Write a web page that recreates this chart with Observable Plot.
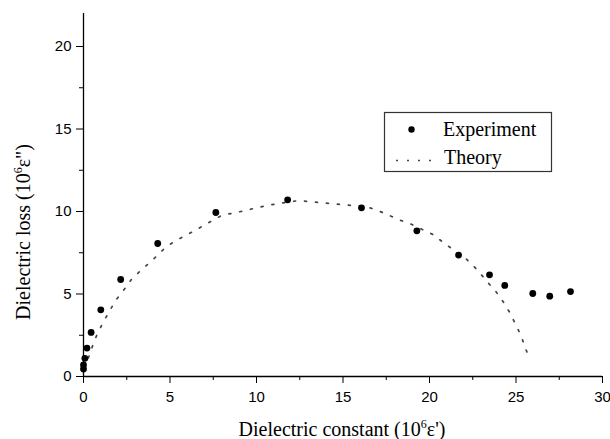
<!DOCTYPE html>
<html>
<head>
<meta charset="utf-8">
<script src="https://cdn.jsdelivr.net/npm/d3@7"></script>
<script src="https://cdn.jsdelivr.net/npm/@observablehq/plot@0.6"></script>
<style>
  html, body { margin: 0; padding: 0; background: white; }
  svg { display: block; }
</style>
</head>
<body>
<div id="chart"></div>
<script>
// Experiment data (dielectric constant vs dielectric loss)
const expX = [0, 0, 0.08, 0.2, 0.44, 1.0, 2.15, 4.29, 7.65, 11.8, 16.07, 19.27, 21.68, 23.47, 24.35, 25.97, 26.95, 28.15];
const expY = [0.45, 0.7, 1.1, 1.72, 2.67, 4.04, 5.88, 8.06, 9.94, 10.71, 10.22, 8.83, 7.36, 6.16, 5.52, 5.03, 4.87, 5.15];

// Theory curve
const theoryX = [0.05, 0.31, 0.54, 0.79, 1.12, 1.48, 1.87, 2.37, 2.81, 3.47, 4.12, 4.76, 5.39, 6.05, 6.68, 7.31, 7.98, 8.63, 9.27, 9.9, 10.56, 11.19, 12.47, 13.12, 13.77, 14.41, 15.05, 15.7, 16.34, 16.97, 17.59, 18.29, 18.92, 20.19, 20.83, 21.45, 22.16, 22.75, 23.27, 23.85, 24.3, 24.68, 25.01, 25.3, 25.53, 25.78];
const theoryY = [0.5, 1.21, 1.9, 2.57, 3.25, 3.92, 4.63, 5.3, 5.94, 6.57, 7.19, 7.84, 8.27, 8.63, 8.99, 9.37, 9.76, 9.9, 10.04, 10.2, 10.35, 10.47, 10.67, 10.59, 10.53, 10.47, 10.41, 10.35, 10.3, 10.08, 9.8, 9.48, 9.24, 8.61, 8.1, 7.62, 7.09, 6.48, 5.82, 5.13, 4.47, 3.8, 3.09, 2.45, 1.76, 1.09];

// Axis ticks
const xTicks = [0, 5, 10, 15, 20, 25, 30];
const xMinor = [2.5, 7.5, 12.5, 17.5, 22.5, 27.5];
const yTicks = [0, 5, 10, 15, 20];
const yMinor = [2.5, 7.5, 12.5, 17.5];

const xTitle = "Dielectric constant";
const yTitle = "Dielectric loss";
const legendLabels = ["Experiment", "Theory"];

const experiment = expX.map((x, i) => ({x, y: expY[i]}));
const theory = theoryX.map((x, i) => ({x, y: theoryY[i]}));

const chart = Plot.plot({
  width: 610,
  height: 439,
  marginLeft: 83,
  marginRight: 8,
  marginTop: 13,
  marginBottom: 63,
  x: {domain: [0, 30]},
  y: {domain: [0, 22]},
  style: {fontFamily: "'Liberation Sans', Arial, sans-serif", fontSize: "15px", color: "black", background: "white"},
  marks: [
    Plot.axisX({ticks: xTicks, tickSize: 7, tickPadding: 8, tickFormat: d => String(d), label: null, fontSize: 15}),
    Plot.axisX({ticks: xMinor, tickSize: 4, text: null, label: null}),
    Plot.axisY({ticks: yTicks, tickSize: 7, tickPadding: 5, tickFormat: d => String(d), label: null, fontSize: 15}),
    Plot.axisY({ticks: yMinor, tickSize: 4, text: null, label: null}),
    Plot.ruleY([0], {stroke: "black", strokeWidth: 1.3}),
    Plot.ruleX([0], {stroke: "black", strokeWidth: 1.3}),
    Plot.line(theory, {x: "x", y: "y", stroke: "#444", strokeWidth: 1.7, strokeDasharray: "2,9"}),
    Plot.dot(experiment, {x: "x", y: "y", r: 3.4, fill: "black", stroke: "none"})
  ]
});
document.getElementById("chart").appendChild(chart);

const svg = d3.select(chart);
const serif = "'Liberation Serif', 'Times New Roman', serif";

// X axis title
const xt = svg.append("text")
  .attr("x", 342).attr("y", 436)
  .attr("text-anchor", "middle")
  .attr("font-family", serif).attr("font-size", 20).attr("fill", "black");
xt.append("tspan").text(xTitle + " (10");
xt.append("tspan").attr("font-size", 12).attr("dy", -8).text("6");
xt.append("tspan").attr("dy", 8).text("\u03B5')");

// Y axis title
const yt = svg.append("text")
  .attr("transform", "translate(30,232) rotate(-90)")
  .attr("text-anchor", "middle")
  .attr("font-family", serif).attr("font-size", 20).attr("fill", "black");
yt.append("tspan").text(yTitle + " (10");
yt.append("tspan").attr("font-size", 12).attr("dy", -8).text("6");
yt.append("tspan").attr("dy", 8).text("\u03B5\")");

// Legend
const lg = svg.append("g").attr("text-anchor", "start");
lg.append("rect").attr("x", 384.5).attr("y", 112.5).attr("width", 167).attr("height", 59)
  .attr("fill", "white").attr("stroke", "#333").attr("stroke-width", 1.2);
lg.append("circle").attr("cx", 411.5).attr("cy", 129.5).attr("r", 3.2).attr("fill", "black");
lg.append("text").attr("x", 443).attr("y", 136).attr("text-anchor", "start")
  .attr("font-family", serif).attr("font-size", 20)
  .attr("fill", "black").text(legendLabels[0]);
lg.append("line").attr("x1", 396).attr("x2", 436).attr("y1", 160.5).attr("y2", 160.5)
  .attr("stroke", "#444").attr("stroke-width", 1.7).attr("stroke-dasharray", "2,9");
lg.append("text").attr("x", 444).attr("y", 164).attr("text-anchor", "start")
  .attr("font-family", serif).attr("font-size", 20)
  .attr("fill", "black").text(legendLabels[1]);
</script>
</body>
</html>
